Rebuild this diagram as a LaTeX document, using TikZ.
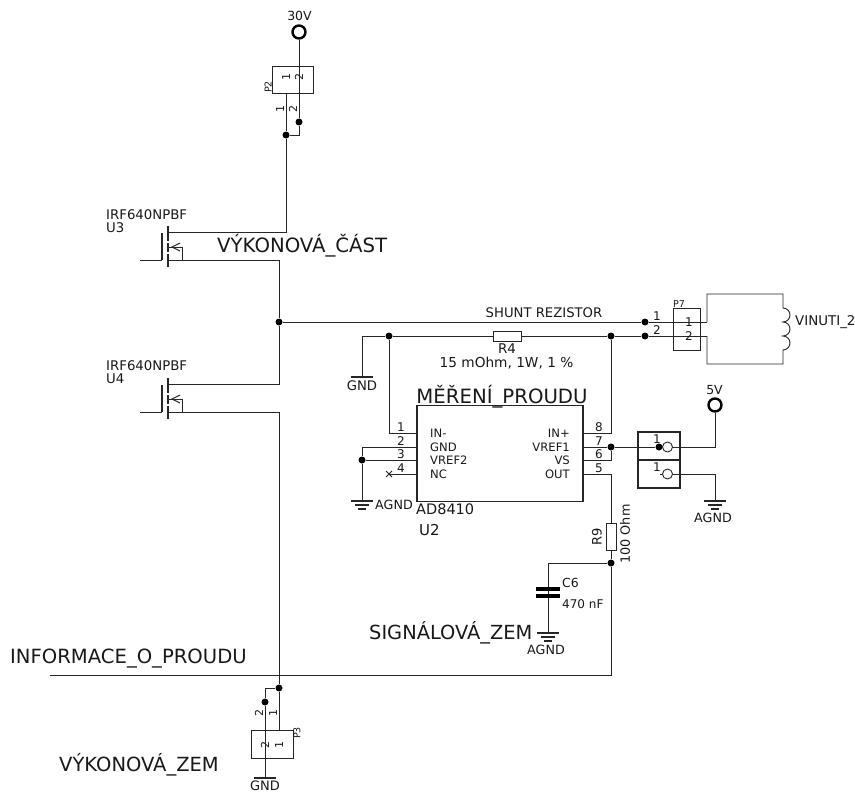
\documentclass[tikz,border=0pt]{standalone}
\usepackage{fontspec}
\setmainfont{DejaVu Sans}
\usetikzlibrary{arrows.meta}
\tikzset{
 wire/.style={draw=black!85,line width=0.9pt,line join=miter},
 boxs/.style={draw=black!85,line width=1pt},
 thickbox/.style={draw=black!85,line width=2pt},
 dot/.style={circle,fill=black,inner sep=0pt,minimum size=7pt},
 term/.style={circle,draw=black,line width=2.4pt,fill=white,inner sep=0pt,minimum size=13pt},
 txt/.style={inner sep=0pt,font=\fontsize{#1}{#1}\selectfont,text=black!90},
 txt/.default=11,
}
\newcommand{\gndbars}[2]{% x,y : three bars
 \draw[wire,line width=1.1pt] (#1-11,#2) -- (#1+11,#2);
 \draw[wire,line width=1.1pt] (#1-7,#2+4) -- (#1+7,#2+4);
 \draw[wire,line width=1.1pt] (#1-4,#2+8) -- (#1+4,#2+8);}
\newcommand{\mosfet}[1]{% y of drain
 \draw[wire,line width=1.1pt] (168,#1-6) -- (168,#1+9);
 \draw[wire,line width=1.1pt] (168,#1+11) -- (168,#1+20);
 \draw[wire,line width=1.1pt] (168,#1+22) -- (168,#1+35);
 \draw[wire,line width=1.1pt] (162,#1+1) -- (162,#1+28);
 \draw[wire] (168,#1+15) -- (182,#1+15) -- (182,#1+28);
 \draw[wire] (180,#1+11) -- (172,#1+15) -- (180,#1+19);}
\begin{document}
\begin{tikzpicture}[x=1pt,y=-1pt]
\useasboundingbox (0,0) rectangle (855,792);
\fill[white] (0,0) rectangle (855,792);
% --- 30 V and P2
\node[term] (t30) at (299,32) {};
\node[txt=12.5] (l30) at (299.5,16) {30V};
\node[draw=black!85,line width=1pt,minimum width=41pt,minimum height=27pt,inner sep=0pt] (p2) at (292.5,80.5) {};
\node[dot] (j2) at (299,122) {};
\node[dot] (j1) at (286,135) {};
\draw[wire] (t30) -- (j2) -- (299,135) -- (j1);
\draw[wire] (j1 |- p2.south) -- (j1);
\coordinate (d3) at (168,232);
\coordinate (s3) at (168,260);
\coordinate (g3) at (140,260);
\coordinate (d4) at (168,384);
\coordinate (s4) at (168,412);
\coordinate (g4) at (140,412);
\draw[wire] (j1) -- (286,232) -- (d3);
\mosfet{232}
\mosfet{384}
\draw[wire] (g3) -- (162,260);
\draw[wire] (g4) -- (162,412);
\node[dot] (jm) at (279,322) {};
\node[dot] (jb) at (279,688) {};
\draw[wire] (s3) -- (279,260) -- (jm);
\draw[wire] (d4) -- (279,384) -- (jm);
\draw[wire] (s4) -- (279,412) -- (jb);
% labels P2
\node[txt=9.5,rotate=90] at (268,87) {P2};
\node[txt=11,rotate=90] at (286,77) {1};
\node[txt=11,rotate=90] at (299,77) {2};
\node[txt=11,rotate=90] at (280,109) {1};
\node[txt=11,rotate=90] at (293,109) {2};
\node[txt=13.3,anchor=west] at (106,215) {IRF640NPBF};
\node[txt=13.3,anchor=west] at (106,228) {U3};
\node[txt=13.3,anchor=west] at (106,366) {IRF640NPBF};
\node[txt=13.3,anchor=west] at (106,379) {U4};
\node[txt=19.7,anchor=west] at (217,246) {VÝKONOVÁ\_ČÁST};
% --- shunt
\node[dot] (jp1) at (645,322) {};
\node[dot] (jp2) at (645,336) {};
\node[dot] (jr1) at (389,336) {};
\node[dot] (jr2) at (611,336) {};
\node[draw=black!85,line width=1pt,minimum width=28pt,minimum height=10pt,inner sep=0pt] (r4) at (507,336) {};
\coordinate (gnd1) at (362,377);
\draw[wire] (jm) -- (jp1) -- (707,322);
\draw[wire] (gnd1) -- (362,336) -- (jr1) -- (r4) -- (jr2) -- (jp2) -- (707,336);
\draw[wire,line width=1.1pt] (351,377) -- (373,377);
\node[txt=13.2] at (362,386) {GND};
\node[txt=13.2] at (544,313) {SHUNT REZISTOR};
\node[txt=13.4] at (507,349) {R4};
\node[txt=13.7] at (506.5,363) {15 mOhm, 1W, 1 \%};
% --- P7 and coil
\node[draw=black!85,line width=1pt,minimum width=27pt,minimum height=42pt,inner sep=0pt] (p7) at (686.5,329) {};
\node[txt=9.5] at (679,304) {P7};
\node[txt=12] at (657,316) {1};
\node[txt=12] at (657,330) {2};
\node[txt=12] at (689,322) {1};
\node[txt=12] at (689,336) {2};
\draw[wire] (707,322) -- (707,294) -- (783,294) -- (783,308)
  arc[start angle=-90,end angle=90,radius=7] arc[start angle=-90,end angle=90,radius=7] arc[start angle=-90,end angle=90,radius=7]
  -- (783,364) -- (707,364) -- (707,336);
\node[txt=13.4,anchor=west] at (795,322) {VINUTI\_2};
% --- AD8410
\node[draw=black!85,line width=1.1pt,minimum width=166pt,minimum height=96pt,inner sep=0pt] (u2) at (500,453.7) {};
\node[txt=19.7] at (502,397) {MĚŘENÍ\_PROUDU};
\node[txt=14.5,anchor=west] at (416,509) {AD8410};
\node[txt=15,anchor=west] at (419,530) {U2};
\coordinate (pin1) at (417,433);
\coordinate (pin2) at (417,447);
\coordinate (pin3) at (417,460);
\coordinate (pin4) at (417,474);
\coordinate (pin8) at (583,433);
\coordinate (pin7) at (583,447);
\coordinate (pin6) at (583,460);
\coordinate (pin5) at (583,474);
\node[dot] (j3) at (362,460) {};
\node[dot] (j7) at (611,447) {};
\coordinate (agnd1) at (362,501);
\draw[wire] (jr1) -- (389,433) -- (pin1);
\draw[wire] (pin2) -- (362,447) -- (j3) -- (agnd1);
\draw[wire] (pin3) -- (j3);
\draw[wire] (pin4) -- (389,474);
\draw[wire] (386,471) -- (392,477) (386,477) -- (392,471);
\gndbars{362}{501}
\node[txt=12.7,anchor=west] at (375,505) {AGND};
\draw[wire] (pin8) -- (611,433) -- (jr2);
\draw[wire] (pin6) -- (611,460) -- (j7);
\foreach \yy/\a/\b/\c/\d in {433/IN-/IN+/1/8,447/GND/VREF1/2/7,460/VREF2/VS/3/6,474/NC/OUT/4/5}{
 \node[txt=11.6,anchor=west] at (430,\yy) {\a};
 \node[txt=11.6,anchor=east] at (570,\yy) {\b};
 \node[txt=12] at (401,\yy-6) {\c};
 \node[txt=12] at (599,\yy-6) {\d};
}
% --- double connector and 5 V
\node[thickbox,minimum width=42pt,minimum height=28pt,inner sep=0pt] (c1) at (659,446) {};
\node[thickbox,minimum width=42pt,minimum height=28pt,inner sep=0pt] (c2) at (659,474) {};
\node[dot] (j5) at (659,447) {};
\node[draw=black!85,circle,line width=.9pt,minimum size=10pt,inner sep=0pt] (o1) at (667.5,447) {};
\node[draw=black!85,circle,line width=.9pt,minimum size=10pt,inner sep=0pt] (o2) at (667.5,474) {};
\node[txt=12] at (657,439) {1};
\node[txt=12] at (657,467) {1};
\node[term] (t5) at (715,405) {};
\node[txt=12.5] at (714.5,390) {5V};
\coordinate (agnd2) at (715,501);
\draw[wire] (pin7) -- (j7) -- (j5);
\draw[wire] (o1) -- (715,447) -- (t5);
\draw[wire] (660,474) -- (o2);
\draw[wire] (o2) -- (715,474) -- (agnd2);
\gndbars{715}{501}
\node[txt=12.7] at (713,518) {AGND};
% --- R9, C6
\node[draw=black!85,line width=1pt,minimum width=10pt,minimum height=27pt,inner sep=0pt] (r9) at (611,536.5) {};
\node[dot] (j9) at (611,563) {};
\coordinate (cn) at (548,563);
\coordinate (agnd3) at (548,633);
\draw[wire] (pin5) -- (611,474) -- (r9) -- (j9) -- (cn) -- (agnd3);
\fill[black] (536,586.5) rectangle (560,590.5);
\fill[black] (536,593.5) rectangle (560,597.5);
\gndbars{548}{633}
\node[txt=13,rotate=90] at (597,537) {R9};
\node[txt=12.8,rotate=90] at (625,534) {100 Ohm};
\node[txt=12.5,anchor=west] at (562,583) {C6};
\node[txt=12,anchor=west] at (562,604) {470 nF};
\node[txt=12.7] at (546,650) {AGND};
\node[txt=19.4,anchor=west] at (369,633) {SIGNÁLOVÁ\_ZEM};
% --- information
\coordinate (infoend) at (50,675);
\draw[wire] (j9) -- (611,675) -- (infoend);
\node[txt=19.6,anchor=west] at (10,659) {INFORMACE\_O\_PROUDU};
% --- P3
\node[draw=black!85,line width=1pt,minimum width=42pt,minimum height=28pt,inner sep=0pt] (p3) at (272,744) {};
\node[dot] (j6) at (265,702) {};
\coordinate (gnd2) at (265,778);
\draw[wire] (jb) -- (279,730);
\draw[wire] (jb) -- (265,688) -- (j6) -- (gnd2);
\draw[wire,line width=1.1pt] (254,778) -- (276,778);
\node[txt=13] at (265,785.5) {GND};
\node[txt=9.5,rotate=90] at (297,733) {P3};
\node[txt=11,rotate=90] at (259,713) {2};
\node[txt=11,rotate=90] at (273,713) {1};
\node[txt=11,rotate=90] at (265,745) {2};
\node[txt=11,rotate=90] at (279,745) {1};
\node[txt=19.5,anchor=west] at (59,765) {VÝKONOVÁ\_ZEM};
\end{tikzpicture}
\end{document}
